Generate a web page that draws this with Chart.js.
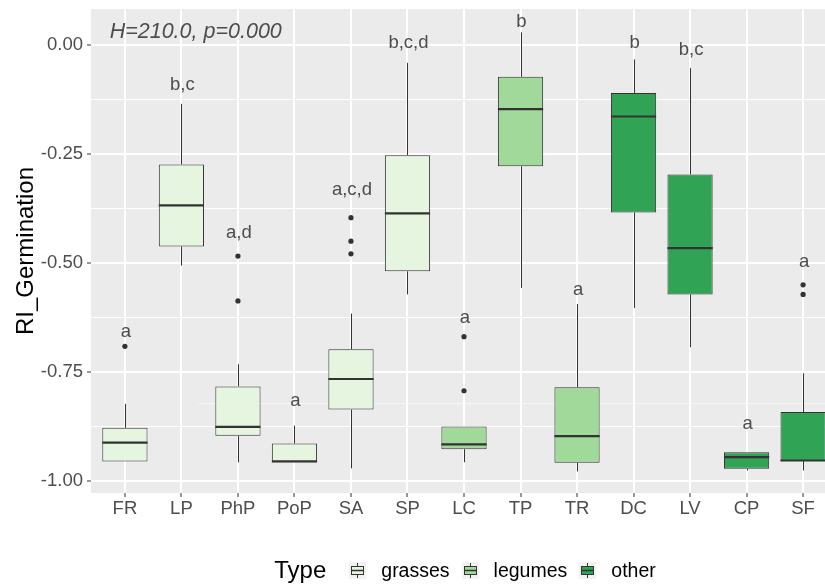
<!DOCTYPE html>
<html>
<head>
<meta charset="utf-8">
<script src="https://cdn.jsdelivr.net/npm/chart.js@4.4.0/dist/chart.umd.min.js"></script>
<style>
  html, body { margin: 0; padding: 0; background: #fff; width: 825px; height: 586px; overflow: hidden; }
  #wrap { position: relative; width: 845px; height: 586px; }
  #legend {
    position: absolute; left: 98px; width: 746px; top: 555px; height: 30px;
    display: flex; justify-content: center; align-items: center;
    font-family: 'Liberation Sans', Arial, sans-serif; color: #000;
  }
  #legend .title { font-size: 24px; margin-right: 23px; }
  #legend .item { display: flex; align-items: center; margin-right: 12px; font-size: 19.5px; }
  #legend .item span { margin-left: 15px; }
  #legend svg { display: block; }
</style>
</head>
<body>
<div id="wrap">
  <canvas id="chart_box" width="845" height="586"></canvas>
  <div id="legend"></div>
</div>
<script>
const categories = ['FR','LP','PhP','PoP','SA','SP','LC','TP','TR','DC','LV','CP','SF'];
const types      = ['grasses','grasses','grasses','grasses','grasses','grasses','legumes','legumes','legumes','other','other','other','other'];
const typeNames  = ['grasses','legumes','other'];
const typeColors = ['#e5f5e0','#a1d99b','#31a354'];

// box statistics
const whiskerLow  = [-0.955,-0.506,-0.957,-0.957,-0.971,-0.572,-0.957,-0.557,-0.978,-0.603,-0.693,-0.976,-0.976];
const q1          = [-0.955,-0.462,-0.896,-0.957,-0.836,-0.519,-0.927,-0.278,-0.958,-0.384,-0.572,-0.972,-0.954];
const median      = [-0.912,-0.368,-0.876,-0.955,-0.766,-0.386,-0.916,-0.147,-0.897,-0.164,-0.466,-0.945,-0.953];
const q3          = [-0.878,-0.274,-0.783,-0.914,-0.698,-0.253,-0.875,-0.073,-0.785,-0.110,-0.297,-0.934,-0.842];
const whiskerHigh = [-0.823,-0.135,-0.732,-0.873,-0.616,-0.041,-0.875, 0.029,-0.594,-0.033,-0.053,-0.934,-0.753];
const outliers    = [[-0.691],[],[-0.484,-0.587],[],[-0.396,-0.450,-0.479],[],[-0.669,-0.793],[],[],[],[],[],[-0.550,-0.572]];

// letters above each box
const letters = ['a','b,c','a,d','a','a,c,d','b,c,d','a','b','a','b','b,c','a','a'];
const letterY = [-0.658,-0.092,-0.431,-0.817,-0.333,0.004,-0.626,0.053,-0.562,0.005,-0.011,-0.868,-0.498];

const statText = 'H=210.0, p=0.000';
const strayLineY = -0.822;

const FONT = "'Liberation Sans', Arial, sans-serif";

const boxDatasets = typeNames.map((t, k) => ({
  type: 'bar',
  label: t,
  data: categories.map((c, i) => i).filter(i => types[i] === t).map(i => ({x: i, y: [q1[i], q3[i]]})),
  backgroundColor: typeColors[k],
  borderColor: '#333333',
  borderWidth: 1,
  borderSkipped: false,
  grouped: false,
  barPercentage: 1,
  categoryPercentage: 0.8,
}));

const outlierData = [];
outliers.forEach((vals, i) => vals.forEach(v => outlierData.push({x: i, y: v})));

const isMajor = v => Math.abs(v * 4 - Math.round(v * 4)) < 1e-6;

const boxParts = {
  id: 'boxParts',
  beforeDraw(chart) {
    const {ctx, chartArea: a} = chart;
    ctx.save();
    ctx.fillStyle = '#ebebeb';
    ctx.fillRect(a.left, a.top, a.width, a.height);
    ctx.restore();
  },
  beforeDatasetsDraw(chart) {
    const {ctx, chartArea: a, scales: {x, y}} = chart;
    ctx.save();
    // faint stray line seen in the original
    ctx.strokeStyle = '#f6f6f6';
    ctx.lineWidth = 1;
    ctx.beginPath();
    ctx.moveTo(x.getPixelForValue(1.3), Math.round(y.getPixelForValue(strayLineY)) + 0.5);
    ctx.lineTo(a.right, Math.round(y.getPixelForValue(strayLineY)) + 0.5);
    ctx.stroke();
    // whiskers
    ctx.strokeStyle = '#333333';
    ctx.lineWidth = 1;
    categories.forEach((c, i) => {
      const px = Math.round(x.getPixelForValue(i)) + 0.5;
      ctx.beginPath();
      ctx.moveTo(px, y.getPixelForValue(whiskerHigh[i]));
      ctx.lineTo(px, y.getPixelForValue(q3[i]));
      ctx.moveTo(px, y.getPixelForValue(q1[i]));
      ctx.lineTo(px, y.getPixelForValue(whiskerLow[i]));
      ctx.stroke();
    });
    ctx.restore();
  },
  afterDatasetsDraw(chart) {
    const {ctx, scales: {x, y}} = chart;
    ctx.save();
    // medians
    ctx.strokeStyle = '#333333';
    ctx.lineWidth = 2.2;
    categories.forEach((c, i) => {
      const py = y.getPixelForValue(median[i]);
      ctx.beginPath();
      ctx.moveTo(x.getPixelForValue(i - 0.4), py);
      ctx.lineTo(x.getPixelForValue(i + 0.4), py);
      ctx.stroke();
    });
    // letters
    ctx.fillStyle = '#4d4d4d';
    ctx.font = '18.5px ' + FONT;
    ctx.textAlign = 'center';
    ctx.textBaseline = 'middle';
    letters.forEach((t, i) => {
      ctx.fillText(t, x.getPixelForValue(i) + 1, y.getPixelForValue(letterY[i]));
    });
    // test statistic
    ctx.font = 'italic 21.5px ' + FONT;
    ctx.textAlign = 'left';
    ctx.fillText(statText, x.getPixelForValue(-0.27), y.getPixelForValue(0.030));
    ctx.restore();
  }
};

const chartBox = document.getElementById('chart_box');
const myChart = new Chart(chartBox, {
  type: 'bar',
  data: {
    datasets: [
      {
        type: 'scatter',
        label: 'outliers',
        data: outlierData,
        pointRadius: 2.6,
        pointBackgroundColor: '#333333',
        pointBorderWidth: 0,
        showLine: false,
      },
      ...boxDatasets
    ]
  },
  plugins: [boxParts],
  options: {
    responsive: false,
    animation: false,
    layout: {
      padding: {left: 0, right: 8, top: 9, bottom: 0}
    },
    plugins: {
      legend: {display: false},
      tooltip: {enabled: false},
    },
    scales: {
      x: {
        type: 'linear',
        min: -0.6,
        max: 12.6,
        offset: false,
        border: {display: false},
        grid: {offset: false, color: '#ffffff', lineWidth: 2, tickColor: '#333333', tickLength: 4, tickWidth: 1},
        ticks: {
          stepSize: 1,
          includeBounds: false,
          autoSkip: false,
          maxRotation: 0,
          padding: 1,
          color: '#4d4d4d',
          font: {family: FONT, size: 18.5},
          callback: v => categories[v],
        },
        afterFit: s => { s.height = 93; s.paddingLeft = 0; s.paddingRight = 0; },
      },
      y: {
        type: 'linear',
        min: -1.0275,
        max: 0.0826,
        border: {display: false},
        grid: {
          color: '#ffffff',
          lineWidth: c => (c.tick && isMajor(c.tick.value)) ? 2 : 1,
          tickColor: c => (c.tick && isMajor(c.tick.value)) ? '#333333' : 'rgba(0,0,0,0)',
          tickLength: 4,
          tickWidth: 1,
        },
        ticks: {
          stepSize: 0.125,
          includeBounds: false,
          padding: 4,
          color: '#4d4d4d',
          font: {family: FONT, size: 18.5},
          callback: v => isMajor(v) ? v.toFixed(2) : '',
        },
        title: {
          display: true,
          text: 'RI_Germination',
          color: '#000000',
          font: {family: FONT, size: 24},
          padding: {top: 12, bottom: 0},
        },
        afterFit: s => { s.width = 91; s.paddingTop = 0; s.paddingBottom = 0; },
      }
    }
  }
});

// legend: title + boxplot glyph keys
const legend = document.getElementById('legend');
let html = '<div class="title">Type</div>';
typeNames.forEach((t, k) => {
  html += '<div class="item"><svg width="17" height="17">' +
    '<rect x="0" y="0" width="17" height="17" fill="#f2f2f2"/>' +
    '<line x1="8.5" y1="1" x2="8.5" y2="16" stroke="#333" stroke-width="1"/>' +
    '<rect x="2.5" y="4.5" width="12" height="8" fill="' + typeColors[k] + '" stroke="#333" stroke-width="1"/>' +
    '<line x1="2.5" y1="8.5" x2="14.5" y2="8.5" stroke="#333" stroke-width="1.5"/>' +
    '</svg><span>' + t + '</span></div>';
});
legend.innerHTML = html;
</script>
</body>
</html>
